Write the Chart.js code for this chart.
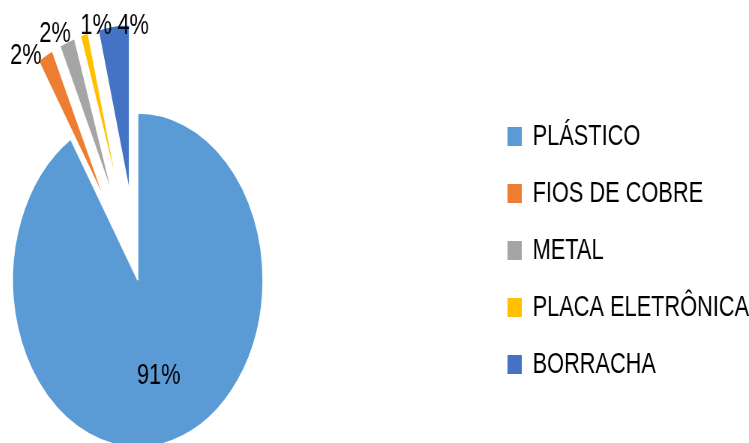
<!DOCTYPE html>
<html>
<head>
<meta charset="utf-8">
<script src="https://cdn.jsdelivr.net/npm/chart.js@4.4.1/dist/chart.umd.min.js"></script>
<style>
  html, body { margin: 0; padding: 0; background: #fff; }
  #wrap { width: 749px; height: 443px; overflow: hidden; position: relative; }
  /* drawn wide, then squeezed so the pie comes out oval like the office export */
  #pie { position: absolute; left: -211.5px; top: 0; width: 1292px; height: 466px; transform: scaleX(0.75); transform-origin: 0 0; }
</style>
</head>
<body>
<div id="wrap"><canvas id="pie" width="1292" height="466"></canvas></div>
<script>
const materials = ["PLÁSTICO", "FIOS DE COBRE", "METAL", "PLACA ELETRÔNICA", "BORRACHA"];
const shares = [91, 2, 2, 1, 4];

const sliceColors = ["#5B9BD5", "#ED7D31", "#A5A5A5", "#FFC000", "#4472C4"];
const explode = [0, 89, 89, 89, 89];
// where each outside label sits relative to the tip of its slice
const labelSide = ["inside", "left", "above-left", "above-right", "right"];

Chart.defaults.font.family = "'Liberation Sans', Arial, sans-serif";

// pull the small slices out from the centre without growing them
const explodePlugin = {
  id: "explodeSlices",
  afterDatasetUpdate(chart, args) {
    const meta = chart.getDatasetMeta(args.index);
    meta.data.forEach((arc, i) => {
      const d = explode[i] || 0;
      if (!d) return;
      const mid = (arc.startAngle + arc.endAngle) / 2;
      arc.x += Math.cos(mid) * d;
      arc.y += Math.sin(mid) * d;
    });
  }
};

const pctLabels = {
  id: "pctLabels",
  afterDatasetsDraw(chart) {
    const ctx = chart.ctx;
    const meta = chart.getDatasetMeta(0);
    const padX = 5;
    ctx.save();
    ctx.font = "29px 'Liberation Sans', Arial, sans-serif";
    ctx.fillStyle = "#000";
    meta.data.forEach((arc, i) => {
      const mid = (arc.startAngle + arc.endAngle) / 2;
      const side = labelSide[i];
      const r = side === "inside" ? arc.outerRadius * 0.6 : arc.outerRadius;
      let x = arc.x + Math.cos(mid) * r;
      let y = arc.y + Math.sin(mid) * r;
      ctx.textAlign = "center";
      ctx.textBaseline = "middle";
      if (side === "left") { ctx.textAlign = "right"; x -= padX; }
      if (side === "right") { ctx.textAlign = "left"; x += padX; }
      if (side === "above-left") { ctx.textAlign = "right"; ctx.textBaseline = "alphabetic"; x += padX; }
      if (side === "above-right") { ctx.textAlign = "left"; ctx.textBaseline = "alphabetic"; x -= padX; }
      ctx.fillText(shares[i] + "%", x, y);
    });
    ctx.restore();
  }
};

new Chart(document.getElementById("pie"), {
  type: "pie",
  data: {
    labels: materials,
    datasets: [{
      data: shares,
      backgroundColor: sliceColors,
      borderColor: "#fff",
      borderWidth: 1.5,
      clip: false
    }]
  },
  options: {
    responsive: false,
    animation: false,
    radius: 167,
    layout: { padding: { left: 0, top: 94, right: 2, bottom: 0 } },
    plugins: {
      legend: {
        position: "right",
        align: "start",
        labels: {
          boxWidth: 19,
          boxHeight: 19,
          padding: 28,
          color: "#000",
          font: { size: 29 },
          // solid swatches, no white outline
          generateLabels(chart) {
            return Chart.overrides.pie.plugins.legend.labels.generateLabels(chart)
              .map(item => Object.assign(item, { lineWidth: 0 }));
          }
        }
      },
      tooltip: { enabled: false }
    }
  },
  plugins: [explodePlugin, pctLabels]
});
</script>
</body>
</html>
